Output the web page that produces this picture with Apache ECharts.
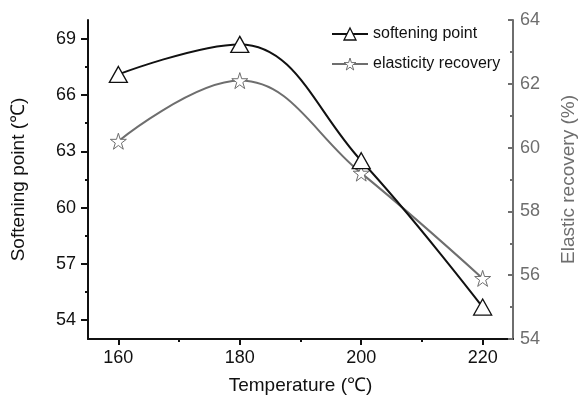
<!DOCTYPE html>
<html>
<head>
<meta charset="utf-8">
<script src="https://cdn.jsdelivr.net/npm/echarts@6/dist/echarts.min.js"></script>
<style>html,body{margin:0;padding:0;background:#fff}#c{width:578px;height:403px}</style>
</head>
<body>
<div id="c"></div>
<script>
const temps = [160, 180, 200, 220];
const softening = [67.1, 68.7, 62.5, 54.7];
const elasticity = [60.2, 62.1, 59.2, 55.9];
const xTickLabels = [160, 180, 200, 220];
const xMinorTicks = [170, 190, 210];
const leftTickLabels = [54, 57, 60, 63, 66, 69];
const leftMinorTicks = [55.5, 58.5, 61.5, 64.5, 67.5];
const rightTickLabels = [54, 56, 58, 60, 62, 64];

const ff = "'Liberation Sans', Arial, sans-serif";
const starPath = 'path://M0,-1 L0.2245,-0.309 L0.951,-0.309 L0.363,0.118 L0.588,0.809 L0,0.382 L-0.588,0.809 L-0.363,0.118 L-0.951,-0.309 L-0.2245,-0.309 Z';
const gray = '#6e6e6e';

const chart = echarts.init(document.getElementById('c'), null, {renderer: 'canvas'});
chart.setOption({
  animation: false,
  backgroundColor: '#fff',
  grid: {left: 88, right: 65, top: 20, bottom: 64, containLabel: false, outerBoundsMode: 'none'},
  legend: {
    left: 326, top: 21, orient: 'vertical', itemGap: 14,
    itemWidth: 36, itemHeight: 15,
    textStyle: {fontFamily: ff, fontSize: 16, color: '#111'},
    data: [
      {name: 'softening point', itemStyle: {color: '#fff', borderColor: '#111', borderWidth: 1.3}},
      {name: 'elasticity recovery', itemStyle: {color: '#fff', borderColor: gray, borderWidth: 1}}
    ]
  },
  xAxis: [{
    type: 'value', min: 155, max: 225, position: 'bottom',
    name: 'Temperature (℃)', nameLocation: 'middle', nameGap: 37,
    nameTextStyle: {fontFamily: ff, fontSize: 19, color: '#111'},
    axisLine: {show: true, lineStyle: {color: '#111', width: 2}},
    axisTick: {show: true, customValues: xTickLabels, length: 6, lineStyle: {color: '#111', width: 2}},
    axisLabel: {customValues: xTickLabels, margin: 10, fontFamily: ff, fontSize: 18, color: '#111'},
    splitLine: {show: false}
  }, {
    type: 'value', min: 155, max: 225, position: 'bottom',
    axisLine: {show: false},
    axisTick: {show: true, customValues: xMinorTicks, length: 3, lineStyle: {color: '#111', width: 2}},
    axisLabel: {show: false},
    splitLine: {show: false}
  }],
  yAxis: [{
    type: 'value', min: 53, max: 70, position: 'left',
    name: 'Softening point (℃)', nameLocation: 'middle', nameGap: 60, nameRotate: 90,
    nameTextStyle: {fontFamily: ff, fontSize: 19, color: '#111'},
    axisLine: {show: true, lineStyle: {color: '#111', width: 2}},
    axisTick: {show: true, customValues: leftTickLabels, length: 7, lineStyle: {color: '#111', width: 2}},
    axisLabel: {customValues: leftTickLabels, margin: 12, fontFamily: ff, fontSize: 18, color: '#111'},
    splitLine: {show: false}
  }, {
    type: 'value', min: 54, max: 64, interval: 2, position: 'right',
    name: 'Elastic recovery (%)', nameLocation: 'middle', nameGap: 46, nameRotate: 90,
    nameTextStyle: {fontFamily: ff, fontSize: 19, color: gray},
    axisLine: {show: true, lineStyle: {color: gray, width: 2}},
    axisTick: {show: true, inside: true, length: 5, lineStyle: {color: gray, width: 2}},
    minorTick: {show: true, splitNumber: 2, length: 3, lineStyle: {color: gray, width: 2}},
    axisLabel: {customValues: rightTickLabels, margin: 7, fontFamily: ff, fontSize: 18, color: gray},
    splitLine: {show: false}
  }, {
    type: 'value', min: 53, max: 70, position: 'left',
    axisLine: {show: false},
    axisTick: {show: true, customValues: leftMinorTicks, length: 3, lineStyle: {color: '#111', width: 2}},
    axisLabel: {show: false},
    splitLine: {show: false}
  }],
  series: [{
    name: 'softening point', type: 'line', xAxisIndex: 0, yAxisIndex: 0,
    smooth: 0.4,
    data: temps.map((t, i) => [t, softening[i]]),
    symbol: 'triangle', symbolSize: [18, 16],
    lineStyle: {color: '#111', width: 2},
    itemStyle: {color: '#fff', borderColor: '#111', borderWidth: 1.3},
    z: 3
  }, {
    name: 'elasticity recovery', type: 'line', xAxisIndex: 0, yAxisIndex: 1,
    smooth: 0.4,
    data: temps.map((t, i) => [t, elasticity[i]]),
    symbol: starPath, symbolSize: 16,
    lineStyle: {color: gray, width: 2},
    itemStyle: {color: '#fff', borderColor: gray, borderWidth: 1},
    z: 2
  }]
});
</script>
</body>
</html>
